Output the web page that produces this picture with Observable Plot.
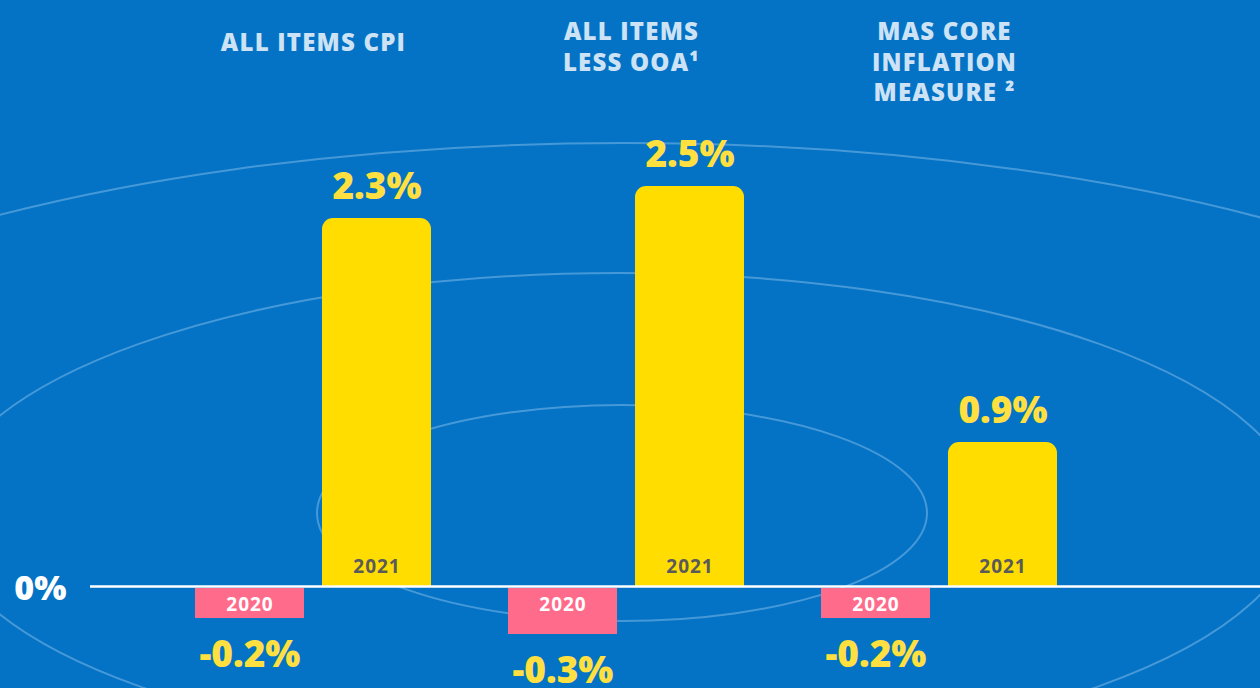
<!DOCTYPE html>
<html>
<head>
<meta charset="utf-8">
<script src="https://cdn.jsdelivr.net/npm/d3@7"></script>
<script src="https://cdn.jsdelivr.net/npm/@observablehq/plot@0.6"></script>
<style>
  html, body { margin: 0; padding: 0; background: #0473C5; }
  #wrap { position: relative; width: 1260px; height: 688px; overflow: hidden; background: #0473C5; }
  #bg { position: absolute; left: 0; top: 0; }
  #chart { position: absolute; left: 0; top: 0; }
  #chart svg { font-family: "Open Sans", sans-serif; }
  #chart .cat-title text { letter-spacing: 1.2px; }
  #chart .year-label text { letter-spacing: 1px; }
</style>
</head>
<body>
<div id="wrap">
  <svg id="bg" width="1260" height="688" viewBox="0 0 1260 688">
    <g fill="none" stroke="rgba(150,200,240,0.45)" stroke-width="2">
      <ellipse cx="622" cy="513" rx="305" ry="108"></ellipse>
      <ellipse cx="619" cy="515" rx="679" ry="242"></ellipse>
      <ellipse cx="625" cy="512" rx="1054" ry="369"></ellipse>
    </g>
  </svg>
  <div id="chart"></div>
</div>
<script>
// ---- data ----
const categories = ["ALL ITEMS CPI", "ALL ITEMS\nLESS OOA¹", "MAS CORE\nINFLATION\nMEASURE ²"];
const years = ["2020", "2021"];
const values2020 = [-0.2, -0.3, -0.2];
const values2021 = [2.3, 2.5, 0.9];
const yTicks = [0];

const rows2020 = categories.map((c, i) => ({category: c, year: years[0], value: values2020[i]}));
const rows2021 = categories.map((c, i) => ({category: c, year: years[1], value: values2021[i]}));
const fmt = d => `${d.toFixed(1)}%`;

const font = "'Open Sans', sans-serif";
const yellow = "#FFDD00";
const pink = "#FF6B8B";
const labelYellow = "#FFE040";
const titleColor = "#CDE3F5";

const chart = Plot.plot({
  width: 1260,
  height: 688,
  marginLeft: 90,
  marginRight: 0,
  marginTop: 106,
  marginBottom: 6,
  style: {background: "transparent", fontFamily: font},
  x: {domain: categories, range: [193.5, 1058], paddingInner: 0.2446, paddingOuter: 0, axis: null},
  y: {domain: [-0.6, 3.0], axis: null, label: null},
  marks: [
    Plot.barY(rows2020, {x: "category", y: "value", fill: pink, insetRight: 127, insetTop: 2}),
    Plot.barY(rows2021, {x: "category", y: "value", fill: yellow, insetLeft: 127, ry1: 11}),
    Plot.ruleY(yTicks, {stroke: "white", strokeWidth: 2.5}),
    Plot.axisY(yTicks, {tickFormat: d => `${d}%`, tickSize: 0, tickPadding: 24, fontSize: 34, fontWeight: 800, color: "white", dy: 3, label: null}),
    // year labels inside bars
    Plot.text(rows2021, {x: "category", y: 0, text: "year", dx: 63.5, dy: -14, lineAnchor: "bottom", fill: "#5A5A5A", fontSize: 19, fontWeight: 700, className: "year-label"}),
    Plot.text(rows2020, {x: "category", y: 0, text: "year", dx: -63.5, dy: 24, lineAnchor: "bottom", fill: "white", fontSize: 19, fontWeight: 700, className: "year-label"}),
    // value labels
    Plot.text(rows2021, {x: "category", y: "value", text: d => fmt(d.value), dx: 63.5, dy: -20, lineAnchor: "bottom", fill: labelYellow, fontSize: 37, fontWeight: 800}),
    Plot.text(rows2020, {x: "category", y: "value", text: d => fmt(d.value), dx: -63.5, dy: 22, lineAnchor: "top", fill: labelYellow, fontSize: 37, fontWeight: 800}),
    // category titles
    Plot.text(categories.slice(0, 1), {x: d => d, text: d => d, frameAnchor: "top", lineAnchor: "top", dy: -77, fill: titleColor, fontSize: 24, fontWeight: 800, lineHeight: 1.27, className: "cat-title"}),
    Plot.text(categories.slice(1), {x: d => d, text: d => d, frameAnchor: "top", lineAnchor: "top", dx: 5, dy: -88, fill: titleColor, fontSize: 24, fontWeight: 800, lineHeight: 1.27, className: "cat-title"})
  ]
});
document.getElementById("chart").appendChild(chart);
</script>
</body>
</html>
